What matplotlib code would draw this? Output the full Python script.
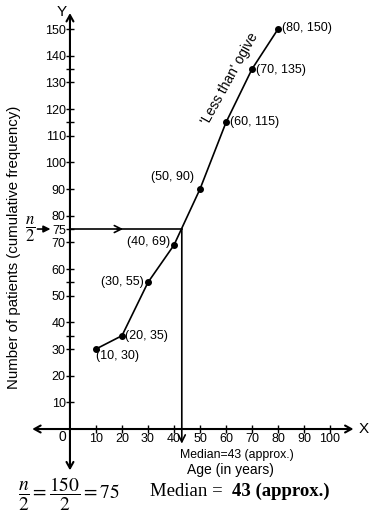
import matplotlib
matplotlib.use("Agg")
import matplotlib.pyplot as plt

plt.rcParams["font.family"] = ["Liberation Sans", "DejaVu Sans"]
plt.rcParams["mathtext.fontset"] = "stix"

# less than ogive data
ages = [10, 20, 30, 40, 50, 60, 70, 80]
cum_freq = [30, 35, 55, 69, 90, 115, 135, 150]
x_ticks = [10, 20, 30, 40, 50, 60, 70, 80, 90, 100]
y_ticks = [10, 20, 30, 40, 50, 60, 70, 75, 80, 90, 100, 110, 120, 130, 140, 150]
y_minor = [35, 55, 115, 135]
n_half = 75
median = 43

# label offsets in points: (dx, dy, ha)
offsets = [(0, -5, "left"), (2, 0, "left"), (-3, 0, "right"), (-3, 2, "right"),
           (-4, 9, "right"), (3, 0, "left"), (3, -1, "left"), (3, 1, "left")]

fig = plt.figure(figsize=(3.74, 5.15), dpi=100)
ax = fig.add_axes([0, 0, 1, 1])
ax.set_xlim(-26.9, 116.9)
ax.set_ylim(-32.25, 160.9)

for s in ["top", "right", "left", "bottom"]:
    ax.spines[s].set_visible(False)
ax.spines["left"].set_position(("data", 0))
ax.spines["bottom"].set_position(("data", 0))

ax.set_xticks(x_ticks)
ax.set_xticklabels([str(v) for v in x_ticks])
ax.set_yticks(y_ticks)
ax.set_yticklabels([str(v) for v in y_ticks])
ax.set_yticks(y_minor, minor=True)
ax.tick_params(axis="both", which="both", direction="inout", length=6, width=1,
               labelsize=9)
ax.tick_params(axis="x", pad=0)
ax.tick_params(axis="y", pad=0)

arr = dict(arrowstyle="<->,head_length=0.45,head_width=0.25", color="black", lw=1.5,
           shrinkA=0, shrinkB=0)
ax.annotate("", xy=(-14.5, 0), xytext=(109, 0), arrowprops=arr)
ax.annotate("", xy=(0, -15.5), xytext=(0, 156), arrowprops=arr)
ax.text(111, 0, "X", fontsize=11, va="center", ha="left")
ax.text(-1.3, 156.5, "Y", fontsize=11, va="center", ha="right")
ax.text(-3, -3, "0", fontsize=10, va="center", ha="center")

# ogive
ax.plot(ages, cum_freq, color="black", lw=1.2, marker="o", markersize=4)
for a, c, (dx, dy, ha) in zip(ages, cum_freq, offsets):
    ax.annotate("(%d, %d)" % (a, c), (a, c), xytext=(dx, dy),
                textcoords="offset points", fontsize=9, ha=ha, va="center")
ax.text(61.3, 131.5, "'Less than' ogive", fontsize=10, rotation=61,
        ha="center", va="center")

# median construction
ax.plot([0, median], [n_half, n_half], color="black", lw=1.2)
ax.annotate("", xy=(21.5, n_half), xytext=(17, n_half),
            arrowprops=dict(arrowstyle="->,head_length=0.5,head_width=0.25",
                            color="black", lw=1.2))
ax.annotate("", xy=(median, -5.5), xytext=(median, n_half),
            arrowprops=dict(arrowstyle="->,head_length=0.5,head_width=0.25",
                            color="black", lw=1.2, shrinkA=0, shrinkB=0))
ax.annotate("", xy=(-7.5, n_half), xytext=(-12.5, n_half),
            arrowprops=dict(arrowstyle="-|>,head_length=0.4,head_width=0.2",
                            color="black", lw=1.2, shrinkA=0, shrinkB=0))
ax.text(-15.2, n_half, r"$\dfrac{n}{2}$", fontsize=12, ha="center", va="center")

ax.text(42.3, -9.7, "Median=43 (approx.)", fontsize=8.8, ha="left", va="center")
ax.text(45, -15.4, "Age (in years)", fontsize=10, ha="left", va="center")
ax.text(-21.5, 68, "Number of patients (cumulative frequency)", fontsize=10.8,
        rotation=90, ha="center", va="center")

# formula line at bottom
ax.text(18 / 374, 1 - 494 / 515, r"$\dfrac{n}{2}=\dfrac{150}{2}=75$", fontsize=14,
        transform=ax.transAxes, ha="left", va="center")
ax.text(150 / 374, 1 - 491 / 515, "Median = ", fontsize=13.5, family="Liberation Serif",
        transform=ax.transAxes, ha="left", va="center")
ax.text(232 / 374, 1 - 491 / 515, "43 (approx.)", fontsize=13.5, fontweight="bold",
        family="Liberation Serif", transform=ax.transAxes, ha="left", va="center")

fig.savefig("out.png", dpi=100)
